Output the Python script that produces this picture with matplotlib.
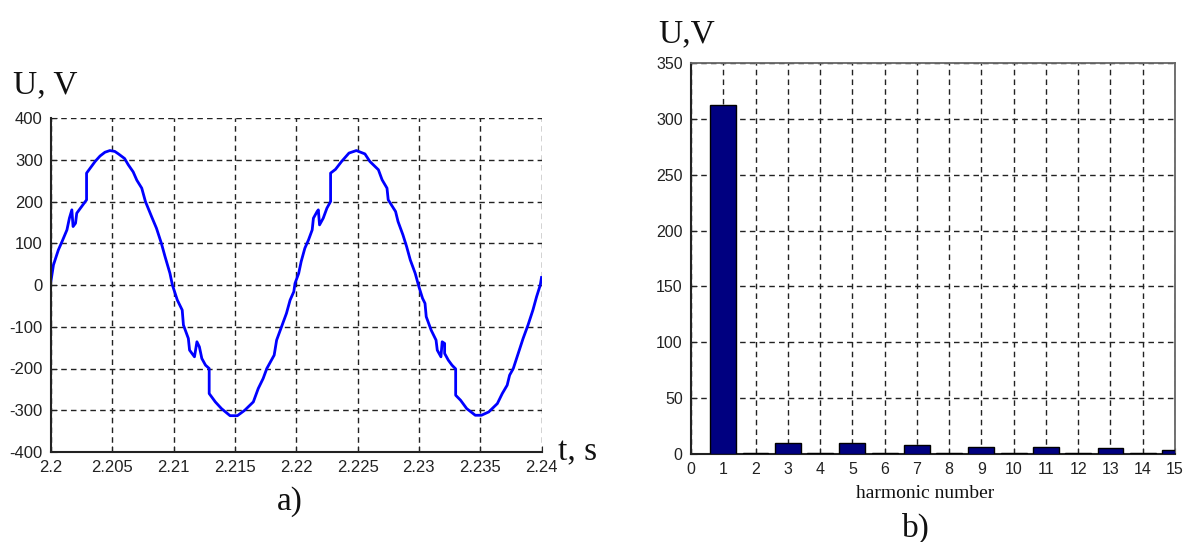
import matplotlib.pyplot as plt

plt.rcParams['axes.unicode_minus'] = False

# waveform read off panel a)
t = [2.2000, 2.2002, 2.2006, 2.2009, 2.2013, 2.2015, 2.2017, 2.2018, 2.2020, 2.2021,
     2.2025, 2.2029, 2.2029, 2.2032, 2.2036, 2.2040, 2.2044, 2.2048, 2.2052, 2.2055,
     2.2060, 2.2063, 2.2067, 2.2070, 2.2074, 2.2077, 2.2082, 2.2086, 2.2090, 2.2093,
     2.2097, 2.2099, 2.2103, 2.2107, 2.2108, 2.2112, 2.2113, 2.2117, 2.2119, 2.2121,
     2.2123, 2.2126, 2.2129, 2.2129, 2.2134, 2.2139, 2.2146, 2.2152, 2.2158, 2.2165,
     2.2169, 2.2173, 2.2176, 2.2182, 2.2184, 2.2188, 2.2192, 2.2195, 2.2198, 2.2199,
     2.2202, 2.2204, 2.2207, 2.2210, 2.2213, 2.2214, 2.2217, 2.2218, 2.2219, 2.2222,
     2.2225, 2.2228, 2.2228, 2.2232, 2.2237, 2.2243, 2.2249, 2.2256, 2.2260, 2.2267,
     2.2270, 2.2274, 2.2275, 2.2281, 2.2283, 2.2287, 2.2290, 2.2293, 2.2297, 2.2300,
     2.2303, 2.2305, 2.2306, 2.2310, 2.2314, 2.2315, 2.2318, 2.2319, 2.2321, 2.2321,
     2.2324, 2.2327, 2.2330, 2.2330, 2.2334, 2.2339, 2.2346, 2.2351, 2.2357, 2.2364,
     2.2368, 2.2372, 2.2374, 2.2377, 2.2381, 2.2385, 2.2389, 2.2393, 2.2396, 2.2399,
     2.2400]
u = [10, 48, 84, 104, 132, 160, 180, 140, 148, 172,
     188, 204, 268, 280, 296, 309, 318, 322, 320, 314,
     303, 288, 271, 251, 232, 200, 164, 136, 100, 68,
     28, 0, -36, -60, -96, -128, -156, -172, -136, -148,
     -176, -192, -200, -260, -280, -296, -313, -313, -300, -280,
     -248, -224, -200, -168, -132, -100, -68, -36, -16, 4,
     28, 56, 88, 108, 132, 160, 176, 180, 144, 160,
     184, 200, 268, 277, 296, 316, 322, 314, 296, 276,
     252, 232, 204, 176, 152, 120, 92, 60, 28, -4,
     -32, -44, -76, -108, -132, -156, -172, -136, -140, -164,
     -180, -192, -201, -264, -276, -296, -312, -312, -304, -284,
     -260, -240, -216, -200, -164, -128, -96, -60, -28, 0,
     18]

t_ticks = [2.2, 2.205, 2.21, 2.215, 2.22, 2.225, 2.23, 2.235, 2.24]
t_labels = ['2.2', '2.205', '2.21', '2.215', '2.22', '2.225', '2.23', '2.235', '2.24']
u_ticks = [-400, -300, -200, -100, 0, 100, 200, 300, 400]

# harmonic spectrum, panel b)
harm = list(range(1, 16))
amp = [312, 1, 9.5, 1, 9.5, 1, 8, 1, 6.5, 1, 6.5, 1, 5.3, 1, 4]
amp_ticks = [0, 50, 100, 150, 200, 250, 300, 350]

W, H = 1183, 542
fig = plt.figure(figsize=(W / 100, H / 100), dpi=100)

def fx(px):
    return px / W

def fy(py):
    return 1 - py / H

tickfont = 'Liberation Sans'
serif = 'Liberation Serif'
grid_kw = dict(color='#222222', linestyle=(0, (4, 3)), linewidth=1.0)

# ---- panel a
ax1 = fig.add_axes([fx(51), fy(452), fx(541.5 - 51), (452 - 118) / H])
ax1.plot(t, u, color='#0000ff', linewidth=2.0)
ax1.set_xlim(2.2, 2.24)
ax1.set_ylim(-400, 400)
ax1.set_xticks(t_ticks)
ax1.set_xticklabels(t_labels)
ax1.set_yticks(u_ticks)
ax1.grid(True, **grid_kw)
for s in ['top', 'right']:
    ax1.spines[s].set_visible(False)
for s in ['left', 'bottom']:
    ax1.spines[s].set_linewidth(1.5)
    ax1.spines[s].set_color('#222222')
ax1.tick_params(direction='in', length=4, pad=6, labelsize=12, colors='#222222')
for lab in ax1.get_xticklabels() + ax1.get_yticklabels():
    lab.set_fontfamily(tickfont)

# ---- panel b
ax2 = fig.add_axes([fx(691), fy(454), fx(1175 - 691), (454 - 63) / H])
ax2.bar(harm, amp, width=0.8, color='#000080', edgecolor='black', linewidth=1.0, zorder=3)
ax2.set_xlim(0, 15)
ax2.set_ylim(0, 350)
ax2.set_xticks(range(0, 16))
ax2.set_yticks(amp_ticks)
ax2.grid(True, **grid_kw)
ax2.set_axisbelow(True)
for s in ['left', 'bottom']:
    ax2.spines[s].set_linewidth(1.5)
    ax2.spines[s].set_color('#222222')
for s in ['top', 'right']:
    ax2.spines[s].set_linewidth(1.3)
    ax2.spines[s].set_color('#666666')
ax2.tick_params(direction='in', length=4, pad=6, labelsize=11.5, colors='#222222')
for lab in ax2.get_xticklabels() + ax2.get_yticklabels():
    lab.set_fontfamily(tickfont)

# ---- labels
big = dict(fontsize=24, family=serif, color='#111111', va='baseline')
fig.text(fx(13), fy(93), 'U, V', **big)
fig.text(fx(658), fy(42), 'U,V', **big)
fig.text(fx(558), fy(460), 't, s', **big)
fig.text(fx(277), fy(510), 'a)', **big)
fig.text(fx(902), fy(537), 'b)', **big)
fig.text(fx(925), fy(498), 'harmonic number', fontsize=14, family=serif,
         color='#111111', ha='center', va='baseline')

fig.savefig('out.png', dpi=100)
